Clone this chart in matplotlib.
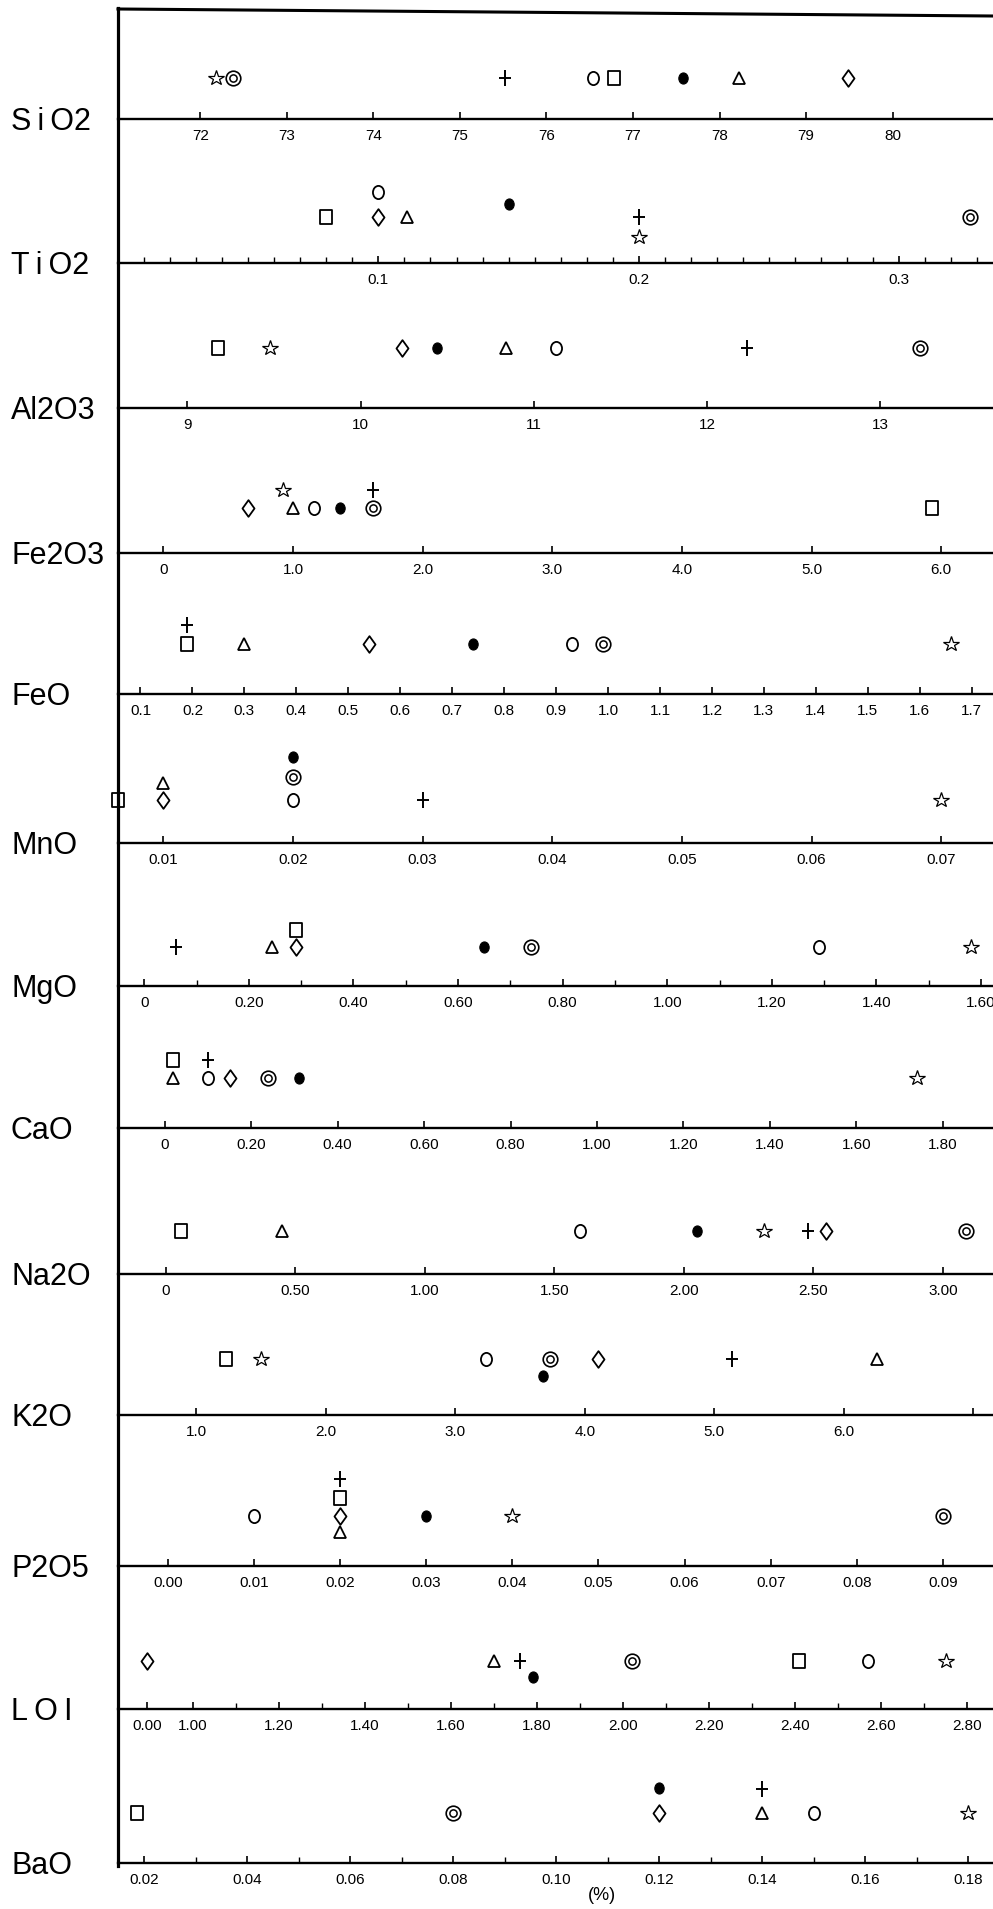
import matplotlib
matplotlib.use("Agg")
import matplotlib.pyplot as plt
from matplotlib.path import Path
from matplotlib.lines import Line2D
import numpy as np

plt.rcParams['font.family'] = ['Liberation Sans', 'DejaVu Sans']

W, H = 993, 1909

oxides = ["SiO2", "TiO2", "Al2O3", "Fe2O3", "FeO", "MnO", "MgO",
          "CaO", "Na2O", "K2O", "P2O5", "LOI", "BaO"]

# one list per sample, values in the order of `oxides` (%)
star     = [72.18, 0.200, 9.48, 0.92, 1.66, 0.070, 1.58, 1.74, 2.31, 1.50, 0.040, 2.75, 0.180]
dcircle  = [72.38, 0.327, 13.23, 1.62, 0.99, 0.020, 0.74, 0.24, 3.09, 3.73, 0.090, 2.02, 0.080]
plus     = [75.52, 0.200, 12.23, 1.62, 0.19, 0.030, 0.06, 0.10, 2.48, 5.14, 0.020, 1.76, 0.140]
circle   = [76.54, 0.100, 11.13, 1.16, 0.93, 0.020, 1.29, 0.10, 1.60, 3.24, 0.010, 2.57, 0.150]
square   = [76.78, 0.080, 9.18, 5.93, 0.19, 0.0065, 0.29, 0.02, 0.06, 1.23, 0.020, 2.41, 0.0185]
filled   = [77.58, 0.150, 10.44, 1.36, 0.74, 0.020, 0.65, 0.31, 2.05, 3.68, 0.030, 1.79, 0.120]
triangle = [78.22, 0.111, 10.84, 1.00, 0.30, 0.010, 0.245, 0.02, 0.45, 6.26, 0.020, 1.70, 0.140]
diamond  = [79.48, 0.100, 10.24, 0.65, 0.54, 0.010, 0.29, 0.15, 2.55, 4.10, 0.020, 0.00, 0.120]

samples = {"star": star, "dcircle": dcircle, "plus": plus, "circle": circle,
           "square": square, "filled": filled, "triangle": triangle,
           "diamond": diamond}

# tick values and labels of each scale
major = [
    [72, 73, 74, 75, 76, 77, 78, 79, 80],
    [0.1, 0.2, 0.3],
    [9, 10, 11, 12, 13],
    [0, 1, 2, 3, 4, 5, 6],
    [0.1, 0.2, 0.3, 0.4, 0.5, 0.6, 0.7, 0.8, 0.9, 1.0, 1.1, 1.2, 1.3, 1.4, 1.5, 1.6, 1.7],
    [0.01, 0.02, 0.03, 0.04, 0.05, 0.06, 0.07],
    [0, 0.2, 0.4, 0.6, 0.8, 1.0, 1.2, 1.4, 1.6],
    [0, 0.2, 0.4, 0.6, 0.8, 1.0, 1.2, 1.4, 1.6, 1.8],
    [0, 0.5, 1.0, 1.5, 2.0, 2.5, 3.0],
    [1, 2, 3, 4, 5, 6, 7],
    [0, 0.01, 0.02, 0.03, 0.04, 0.05, 0.06, 0.07, 0.08, 0.09],
    [0.0, 1.0, 1.2, 1.4, 1.6, 1.8, 2.0, 2.2, 2.4, 2.6, 2.8],
    [0.02, 0.04, 0.06, 0.08, 0.10, 0.12, 0.14, 0.16, 0.18],
]
labels = [
    ["72", "73", "74", "75", "76", "77", "78", "79", "80"],
    ["0.1", "0.2", "0.3"],
    ["9", "10", "11", "12", "13"],
    ["0", "1.0", "2.0", "3.0", "4.0", "5.0", "6.0"],
    ["0.1", "0.2", "0.3", "0.4", "0.5", "0.6", "0.7", "0.8", "0.9", "1.0",
     "1.1", "1.2", "1.3", "1.4", "1.5", "1.6", "1.7"],
    ["0.01", "0.02", "0.03", "0.04", "0.05", "0.06", "0.07"],
    ["0", "0.20", "0.40", "0.60", "0.80", "1.00", "1.20", "1.40", "1.60"],
    ["0", "0.20", "0.40", "0.60", "0.80", "1.00", "1.20", "1.40", "1.60", "1.80"],
    ["0", "0.50", "1.00", "1.50", "2.00", "2.50", "3.00"],
    ["1.0", "2.0", "3.0", "4.0", "5.0", "6.0", ""],
    ["0.00", "0.01", "0.02", "0.03", "0.04", "0.05", "0.06", "0.07", "0.08", "0.09"],
    ["0.00", "1.00", "1.20", "1.40", "1.60", "1.80", "2.00", "2.20", "2.40", "2.60", "2.80"],
    ["0.02", "0.04", "0.06", "0.08", "0.10", "0.12", "0.14", "0.16", "0.18"],
]
minor_step = [None, 0.01, None, None, None, None, 0.1, None, None, None, None, 0.1, 0.01]

xlims = [(71.05, 81.16), (0.0, 0.336), (8.60, 13.65), (-0.35, 6.40),
         (0.0567, 1.741), (0.0065, 0.0740), (-0.0503, 1.623), (-0.108, 1.916),
         (-0.1845, 3.193), (0.396, 7.153), (-0.00577, 0.0958), (0.826, 2.860),
         (0.0149, 0.1848)]

LOI_ZERO = 0.893  # LOI scale is broken: 0.00 sits just left of 1.00

# layout (pixels): axis line of each panel, marker row height, stacked points
axis_y = [119, 263, 408, 553, 694, 843, 986, 1128, 1274, 1415, 1566, 1709, 1863]
row = [41, 46, 60, 45, 50, 43, 39, 50, 43, 56, 50, 48, 50]
stack = {
    (1, "circle"): 25, (1, "filled"): 13, (1, "star"): -20,
    (3, "star"): 18, (3, "plus"): 18,
    (4, "plus"): 19,
    (5, "triangle"): 17, (5, "dcircle"): 23, (5, "filled"): 43,
    (6, "square"): 17,
    (7, "square"): 18, (7, "plus"): 18,
    (9, "filled"): -17,
    (10, "plus"): 37, (10, "square"): 18, (10, "triangle"): -16,
    (11, "filled"): -16,
    (12, "filled"): 25, (12, "plus"): 24,
}
# the hand lettering is spaced out on a few of the names
spaced = {"SiO2": "S\u2009i\u2009O2", "TiO2": "T\u2009i\u2009O2", "LOI": "L\u2009O\u2009I"}

uc = Path.unit_circle()
ellipse = Path(uc.vertices * [0.84, 1.0], uc.codes)
rect = Path([(-0.42, -0.5), (0.42, -0.5), (0.42, 0.5), (-0.42, 0.5), (-0.42, -0.5)],
            [Path.MOVETO, Path.LINETO, Path.LINETO, Path.LINETO, Path.CLOSEPOLY])
rhomb = Path([(0, 1), (0.72, 0), (0, -1), (-0.72, 0), (0, 1)],
             [Path.MOVETO, Path.LINETO, Path.LINETO, Path.LINETO, Path.CLOSEPOLY])
cross = Path([(0, -1), (0, 1), (-0.78, 0.05), (0.78, 0.05)],
             [Path.MOVETO, Path.LINETO, Path.MOVETO, Path.LINETO])

style = {
    "star":     dict(marker="*", ms=11.5, mfc="none", mew=0.9),
    "plus":     dict(marker=cross, ms=11, mfc="none", mew=1.4),
    "circle":   dict(marker=ellipse, ms=9.5, mfc="none", mew=1.3),
    "square":   dict(marker=rect, ms=9.5, mfc="none", mew=1.3),
    "filled":   dict(marker=ellipse, ms=8, mfc="k", mew=0.8),
    "triangle": dict(marker="^", ms=8, mfc="none", mew=1.3),
    "diamond":  dict(marker=rhomb, ms=12, mfc="none", mew=1.3),
}

fig = plt.figure(figsize=(W / 100, H / 100), dpi=100)

for i, ox in enumerate(oxides):
    ax = fig.add_axes([118 / W, 1 - axis_y[i] / H, 1 - 118 / W, 100 / H])
    ax.patch.set_alpha(0)
    ax.set_xlim(xlims[i])
    ax.set_ylim(0, 100)
    for s in ["top", "left", "right"]:
        ax.spines[s].set_visible(False)
    ax.spines["bottom"].set_linewidth(1.7)
    ax.set_yticks([])

    ticks = list(major[i])
    if ox == "LOI":
        ticks[0] = LOI_ZERO
    ax.set_xticks(ticks)
    ax.set_xticklabels(labels[i])
    if minor_step[i]:
        lo, hi = (1.0, 2.8) if ox == "LOI" else (xlims[i][0], xlims[i][1])
        mn = np.arange(np.ceil(lo / minor_step[i]), np.floor(hi / minor_step[i]) + 1) * minor_step[i]
        ax.set_xticks(mn, minor=True)
    ax.tick_params(axis="x", which="major", direction="in", length=5, width=1.2,
                   pad=7, labelsize=11)
    ax.tick_params(axis="x", which="minor", direction="in", length=4, width=1.0)

    for name, vals in samples.items():
        v = vals[i]
        if ox == "LOI" and v < 1:
            v = LOI_ZERO
        y = row[i] + stack.get((i, name), 0)
        if name == "dcircle":
            ax.plot([v], [y], ls="none", marker="o", ms=10.5, mfc="white", mec="k",
                    mew=1.2, clip_on=False)
            ax.plot([v], [y], ls="none", marker="o", ms=5.2, mfc="none", mec="k",
                    mew=1.1, clip_on=False)
        else:
            ax.plot([v], [y], ls="none", mec="k", color="k", clip_on=False, **style[name])

    fig.text(11 / W, 1 - (axis_y[i] + 3) / H, spaced.get(ox, ox), fontsize=22,
             ha="left", va="center")

# frame: left rule and top rule
fig.add_artist(Line2D([118 / W, 118 / W], [1 - 8 / H, 1 - 1866 / H], lw=2.3, color="k"))
fig.add_artist(Line2D([118 / W, 1.0], [1 - 9 / H, 1 - 16 / H], lw=2.2, color="k"))

fig.text(602 / W, 1 - 1895 / H, "(%)", fontsize=13, ha="center", va="center")

fig.savefig("out.png", dpi=100, facecolor="white")
